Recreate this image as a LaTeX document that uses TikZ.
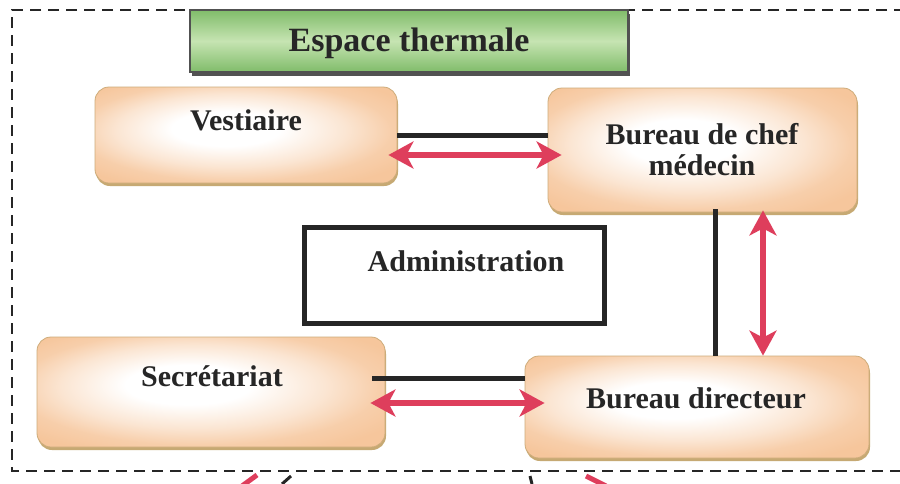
\documentclass[tikz,border=0pt]{standalone}
\usepackage{fontspec}
\setmainfont{Liberation Serif}
\usetikzlibrary{arrows.meta,shadows,calc}
\definecolor{peach}{RGB}{246,198,156}
\definecolor{peachedge}{RGB}{206,172,122}
\definecolor{shadowtan}{RGB}{192,160,100}
\definecolor{gdark}{RGB}{128,188,106}
\definecolor{glight}{RGB}{198,228,178}
\definecolor{redarr}{RGB}{222,62,92}
\definecolor{inkc}{RGB}{38,38,38}
\pgfdeclareradialshading{roomshade}{\pgfpoint{-4bp}{4bp}}{color(0bp)=(white); color(9bp)=(white); color(19bp)=(peach!45!white); color(26bp)=(peach!85!white); color(32bp)=(peach); color(50bp)=(peach)}
\begin{document}
\begin{tikzpicture}[x=1pt,y=-1pt,
  roombox/.style={rounded corners=14pt, draw=peachedge, line width=0.8pt,
    shading=roomshade, inner sep=0pt,
    drop shadow={shadow xshift=1pt, shadow yshift=-3pt, fill=shadowtan, opacity=0.9}},
  titlebox/.style={draw=inkc!80, line width=1.3pt, inner sep=0pt,
    top color=gdark, bottom color=gdark, middle color=glight,
    drop shadow={shadow xshift=2pt, shadow yshift=-4pt, fill=black!75, opacity=0.9}},
  adminbox/.style={draw=inkc, line width=5pt, fill=white, inner sep=0pt},
  lbl/.style={font=\fontsize{30}{30}\selectfont\bfseries, text=inkc, align=center, inner sep=0pt},
  blk/.style={draw=inkc, line width=5pt},
  rarr/.style={draw=redarr, line width=5.5pt,
    {Stealth[length=25pt,width=27pt,inset=7pt]}-{Stealth[length=25pt,width=27pt,inset=7pt]}},
  frame/.style={draw=inkc, line width=2.4pt, dash pattern=on 11pt off 7pt}
]
\useasboundingbox (0,0) rectangle (900,483);
\fill[white] (0,0) rectangle (900,483);

% dashed frame
\draw[frame] (905,10) -- (12,10) -- (12,471) -- (905,471);

% title
\node[titlebox, minimum width=438pt, minimum height=62pt] (title) at (409,41) {};
\node[lbl, font=\fontsize{34}{34}\selectfont\bfseries] (titletxt) at (409,43) {Espace thermale};

% rooms
\node[roombox, minimum width=302pt, minimum height=96pt] (vest) at (246,135) {};
\node[lbl] (vesttxt) at (246,120) {Vestiaire};

\node[roombox, minimum width=309pt, minimum height=124pt] (chef) at (702.5,150) {};
\node[lbl, font=\fontsize{30}{31}\selectfont\bfseries] (cheftxt) at (702,150) {Bureau de chef\\médecin};

\node[adminbox, minimum width=300pt, minimum height=96pt] (admin) at (454,275.5) {};
\node[lbl] (admintxt) at (466,261) {Administration};

\node[roombox, minimum width=348pt, minimum height=110pt] (secr) at (211,392) {};
\node[lbl] (secrtxt) at (212,376) {Secrétariat};

\node[roombox, minimum width=344pt, minimum height=102pt] (dir) at (697,407) {};
\node[lbl] (dirtxt) at (696,398) {Bureau directeur};

% connector end points
\coordinate (va) at ($(chef.south)+(12.5,-3)$);
\coordinate (vb) at (va |- dir.north);
\coordinate (ra) at ($(chef.south)+(60.5,-2)$);
\coordinate (rb) at (ra |- dir.north);

% connectors top
\draw[blk] (vest.east) -- (vest.east -| chef.west);
\draw[rarr, shorten <=-9pt, shorten >=-14pt] ($(vest.east)+(0,20)$) -- ($(vest.east -| chef.west)+(0,20)$);

% connectors vertical
\draw[blk] (va) -- (vb);
\draw[rarr] (ra) -- (rb);

% connectors bottom
\draw[blk, shorten <=-13pt] ($(secr.east)+(0,-14)$) -- ($(secr.east -| dir.west)+(0,-14)$);
\draw[rarr, shorten <=-15pt, shorten >=-20pt] ($(secr.east)+(0,11)$) -- ($(secr.east -| dir.west)+(0,11)$);

% fragments of the next diagram below the frame
\draw[draw=redarr, line width=5pt] (242,486) -- (257,475);
\draw[draw=inkc, line width=3pt] (282,484) -- (291,476);
\draw[draw=inkc, line width=3pt] (530,476) -- (532,484);
\draw[draw=redarr, line width=5pt] (586,476) -- (606,486);
\end{tikzpicture}
\end{document}
